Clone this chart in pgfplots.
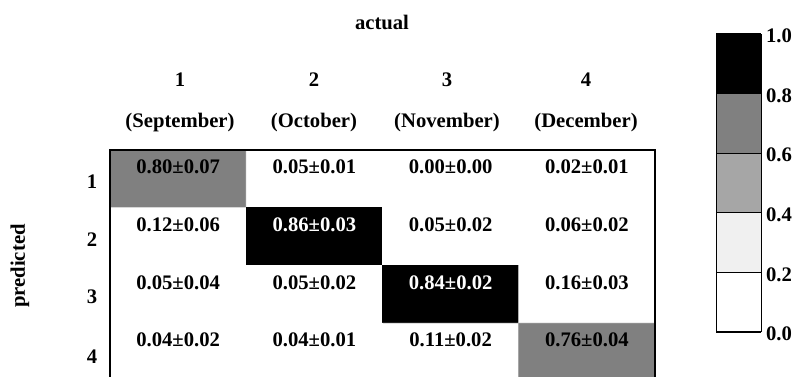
\documentclass[border=0pt]{standalone}
\usepackage{fontspec}
\setmainfont{Liberation Serif}
\usepackage{pgfplots}
\usepackage{pgfplotstable}
\pgfplotsset{compat=1.18}
\newcommand\f{\fontsize{15.5}{17}\selectfont\bfseries}
\pgfplotstableread{
x y z
1 1 0.80
2 1 0.05
3 1 0.00
4 1 0.02
1 2 0.12
2 2 0.86
3 2 0.05
4 2 0.06
1 3 0.05
2 3 0.05
3 3 0.84
4 3 0.16
1 4 0.04
2 4 0.04
3 4 0.11
4 4 0.76
}\cmdata
\begin{document}
\begin{tikzpicture}
\path[use as bounding box, clip] (0pt,0pt) rectangle (594pt,-282pt);
\begin{axis}[
  at={(286.875pt,-199.125pt)}, anchor=center,
  scale only axis, width=408.75pt, height=173.25pt,
  xmin=0.5, xmax=4.5, ymin=0.5, ymax=4.5, y dir=reverse,
  xtick=\empty, ytick=\empty,
  axis line style={black, line width=0.8pt},
  axis on top,
  colormap={cbw}{gray=(1) gray=(0.94) gray=(0.65) gray=(0.5) gray=(0)},
  colormap access=piecewise constant,
  point meta min=0, point meta max=1.01,
  colorbar,
  colorbar style={
    scale only axis,
    width=33.75pt, height=223.5pt,
    at={(528.75pt,-25.5pt)}, anchor=north west,
    ytick={0,0.202,0.404,0.606,0.808,1.01},
    yticklabels={0.0,0.2,0.4,0.6,0.8,1.0},
    yticklabel style={font=\f, yshift=-1.5pt},
    major tick length=0pt,
    ymajorgrids, major grid style={black, line width=0.8pt},
    axis line style={black, line width=0.8pt},
    axis on top,
  },
]
\addplot[matrix plot*, mesh/cols=4, point meta=explicit] table[x=x, y=y, meta=z] {\cmdata};
\node[font=\f] at (axis cs:1,0.794) {0.80±0.07};
\node[font=\f] at (axis cs:2,0.794) {0.05±0.01};
\node[font=\f] at (axis cs:3,0.794) {0.00±0.00};
\node[font=\f] at (axis cs:4,0.794) {0.02±0.01};
\node[font=\f] at (axis cs:1,1.794) {0.12±0.06};
\node[font=\f, text=white] at (axis cs:2,1.794) {0.86±0.03};
\node[font=\f] at (axis cs:3,1.794) {0.05±0.02};
\node[font=\f] at (axis cs:4,1.794) {0.06±0.02};
\node[font=\f] at (axis cs:1,2.794) {0.05±0.04};
\node[font=\f] at (axis cs:2,2.794) {0.05±0.02};
\node[font=\f, text=white] at (axis cs:3,2.794) {0.84±0.02};
\node[font=\f] at (axis cs:4,2.794) {0.16±0.03};
\node[font=\f] at (axis cs:1,3.794) {0.04±0.02};
\node[font=\f] at (axis cs:2,3.794) {0.04±0.01};
\node[font=\f] at (axis cs:3,3.794) {0.11±0.02};
\node[font=\f] at (axis cs:4,3.794) {0.76±0.04};
\end{axis}
\begin{scope}[x=0.75pt, y=-0.75pt]
\node[font=\f] at (382,22) {actual};
\node[font=\f] at (180,80) {1};
\node[font=\f] at (314,80) {2};
\node[font=\f] at (447,80) {3};
\node[font=\f] at (586,80) {4};
\node[font=\f] at (180,123) {(September)};
\node[font=\f] at (314,123) {(October)};
\node[font=\f] at (447,123) {(November)};
\node[font=\f] at (586,123) {(December)};
\node[font=\f] at (92,182) {1};
\node[font=\f] at (92,240) {2};
\node[font=\f] at (92,297) {3};
\node[font=\f] at (92,357) {4};
\node[font=\f, rotate=90] at (20,266) {predicted};
\end{scope}
\end{tikzpicture}
\end{document}
